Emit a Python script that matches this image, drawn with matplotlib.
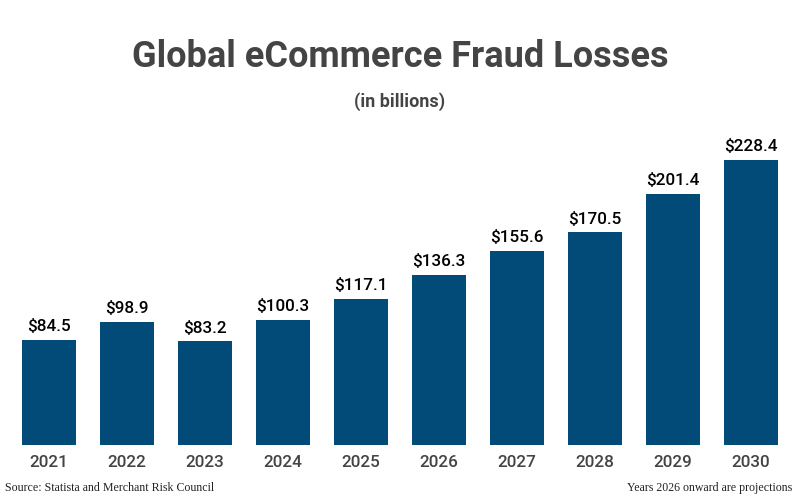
import matplotlib
matplotlib.use('Agg')
import matplotlib.pyplot as plt

# data
years = ['2021', '2022', '2023', '2024', '2025', '2026', '2027', '2028', '2029', '2030']
losses = [84.5, 98.9, 83.2, 100.3, 117.1, 136.3, 155.6, 170.5, 201.4, 228.4]
value_labels = ['$' + f'{v:.1f}' for v in losses]

bar_color = '#024a77'
gray = '#444444'

plt.rcParams['font.family'] = ['Roboto', 'DejaVu Sans']

fig = plt.figure(figsize=(8, 5), dpi=100)
ax = fig.add_axes([10 / 800, 55 / 500, 780 / 800, 300 / 500])

x = range(len(years))
bars = ax.bar(x, losses, width=0.69, color=bar_color)

# value labels above each bar
for b, lab in zip(bars, value_labels):
    ax.annotate(lab, (b.get_x() + b.get_width() / 2, b.get_height()),
                xytext=(0, 4), textcoords='offset points',
                ha='center', va='bottom', fontsize=12.3, fontweight='medium',
                color='black')

ax.set_xlim(-0.5, len(years) - 0.5)
ax.set_ylim(0, 240.4)
ax.set_xticks(list(x))
ax.set_xticklabels(years, fontsize=12.3, fontweight='medium', color=gray)
ax.tick_params(axis='x', length=0, pad=7)
ax.set_yticks([])
for s in ax.spines.values():
    s.set_visible(False)

# title and subtitle
fig.text(0.5, 1 - 57 / 500, 'Global eCommerce Fraud Losses', ha='center', va='center',
         fontsize=26, fontweight='bold', color=gray)
fig.text(0.5, 1 - 102 / 500, '(in billions)', ha='center', va='center',
         fontsize=13, fontweight='bold', color=gray)

# footer notes
fig.text(5 / 800, 1 - 488 / 500, 'Source: Statista and Merchant Risk Council',
         ha='left', va='center', fontsize=8.6, family='Liberation Serif', color='#222222')
fig.text(792 / 800, 1 - 488 / 500, 'Years 2026 onward are projections',
         ha='right', va='center', fontsize=8.6, family='Liberation Serif', color='#222222')

fig.savefig('out.png', dpi=100)
